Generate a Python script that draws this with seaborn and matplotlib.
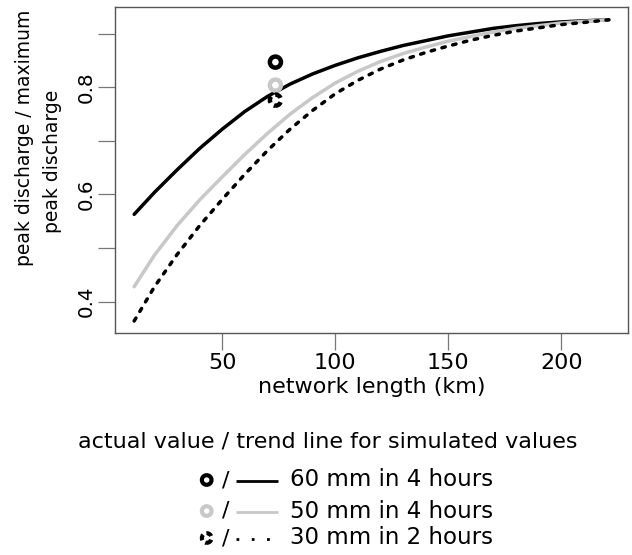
import matplotlib
matplotlib.use("Agg")
import matplotlib.pyplot as plt
import seaborn as sns
import pandas as pd

# ---------------- data ----------------
network_km = [11, 20, 30, 40, 50, 60, 70, 80, 90, 100, 110, 120, 130, 140,
              150, 160, 170, 180, 190, 200, 210, 221]
trend_60mm_4h = [0.563, 0.604, 0.646, 0.686, 0.722, 0.755, 0.783, 0.806, 0.825,
                 0.841, 0.855, 0.867, 0.878, 0.887, 0.896, 0.903, 0.910, 0.915,
                 0.919, 0.922, 0.924, 0.926]
trend_50mm_4h = [0.428, 0.487, 0.542, 0.590, 0.633, 0.675, 0.714, 0.750, 0.781,
                 0.808, 0.830, 0.848, 0.863, 0.875, 0.886, 0.895, 0.903, 0.910,
                 0.915, 0.920, 0.923, 0.926]
trend_30mm_2h = [0.364, 0.428, 0.488, 0.542, 0.591, 0.638, 0.682, 0.722, 0.757,
                 0.788, 0.813, 0.834, 0.851, 0.865, 0.877, 0.888, 0.897, 0.905,
                 0.911, 0.917, 0.921, 0.926]
actual_km = [73.5]
actual_60mm_4h = [0.847]
actual_50mm_4h = [0.804]
actual_30mm_2h = [0.776]
series_labels = ["60 mm in 4 hours", "50 mm in 4 hours", "30 mm in 2 hours"]
y_ticks = [0.4, 0.5, 0.6, 0.7, 0.8, 0.9]
y_tick_labels = ["0.4", "", "0.6", "", "0.8", ""]
x_ticks = [50, 100, 150, 200]

# ---------------- style ----------------
sns.set_style("white")
plt.rcParams["font.family"] = ["DejaVu Sans"]
plt.rcParams["font.size"] = 16
plt.rcParams["text.color"] = "black"
plt.rcParams["axes.labelcolor"] = "black"
plt.rcParams["xtick.color"] = "black"
plt.rcParams["ytick.color"] = "black"
FS = 16

W, H = 632, 555
fig = plt.figure(figsize=(W / 100, H / 100), dpi=100)
ax = fig.add_axes([114.5 / W, 1 - 333 / H, (628 - 114.5) / W, (333 - 7) / H])

BLACK = "black"
GRAY = "#c8c8c8"
LW = 2.5
DOT = (0, (1.0, 2.2))

sns.lineplot(x=network_km, y=trend_60mm_4h, color=BLACK, lw=LW, ax=ax)
sns.lineplot(x=network_km, y=trend_50mm_4h, color=GRAY, lw=LW, ax=ax)
sns.lineplot(x=network_km, y=trend_30mm_2h, color=BLACK, lw=LW, linestyle=DOT,
             dash_capstyle="round", ax=ax)

sns.scatterplot(x=actual_km, y=actual_60mm_4h, marker="o", s=64,
                facecolor="none", edgecolor=BLACK, linewidth=3.2, ax=ax,
                zorder=5)
sns.scatterplot(x=actual_km, y=actual_50mm_4h, marker="o", s=64,
                facecolor="none", edgecolor=GRAY, linewidth=3.2, ax=ax,
                zorder=5)
sns.scatterplot(x=actual_km, y=actual_30mm_2h, marker="o", s=64,
                facecolor="none", edgecolor=BLACK, linewidth=3.2,
                linestyle=(0, (1.5, 1.0)), ax=ax, zorder=5)

ax.set_xlim(2.3, 229.5)
ax.set_ylim(0.3416, 0.9498)
ax.set_xticks(x_ticks)
ax.set_xticklabels([str(v) for v in x_ticks], fontsize=FS)
ax.set_yticks(y_ticks)
ax.set_yticklabels(y_tick_labels, rotation=90, va="center", fontsize=14.3)

for sp in ax.spines.values():
    sp.set_visible(True)
    sp.set_color("#555555")
    sp.set_linewidth(1.0)
ax.tick_params(axis="both", which="both", direction="out", length=12.2,
               width=0.9, color="#777777", labelcolor="black",
               bottom=True, left=True, top=False, right=False)
ax.tick_params(axis="y", pad=1.0)
ax.tick_params(axis="x", pad=2)
ax.set_xlabel("network length (km)", fontsize=FS, labelpad=3, color="black")
ax.set_ylabel("")

fig.text(25 / W, 1 - 137.5 / H, "peak discharge / maximum", rotation=90,
         ha="center", va="center", fontsize=13.5, color="black")
fig.text(52 / W, 1 - 161 / H, "peak discharge", rotation=90,
         ha="center", va="center", fontsize=13.5, color="black")

# ---------------- legend (drawn below the plot) ----------------
lax = fig.add_axes([0, 0, 1, 1])
lax.set_xlim(0, W)
lax.set_ylim(H, 0)
lax.axis("off")

lax.text(327.5, 441.7, "actual value / trend line for simulated values",
         ha="center", va="center", fontsize=FS, color="black")

row_y = [480, 511, 538]
mark_colors = [BLACK, GRAY, BLACK]
mark_ls = ["solid", "solid", (0, (1.4, 0.9))]
line_colors = [BLACK, GRAY, BLACK]
line_ls = ["solid", "solid", (0, (1.0, 4.5))]
for yy, lab, mc, mls, lc, lls in zip(row_y, series_labels, mark_colors,
                                     mark_ls, line_colors, line_ls):
    lax.scatter([206.7], [yy], s=48, marker="o", facecolors="none",
                edgecolors=mc, linewidths=3.0, linestyle=mls)
    lax.text(225.5, yy, "/", ha="center", va="center", fontsize=FS,
             color="black")
    lax.plot([236, 278], [yy + 1, yy + 1], color=lc, lw=2.0, linestyle=lls,
             solid_capstyle="butt", dash_capstyle="butt")
    lax.text(290, yy, lab, ha="left", va="center", fontsize=16.5,
             color="black")

fig.savefig("out.png", dpi=100)
